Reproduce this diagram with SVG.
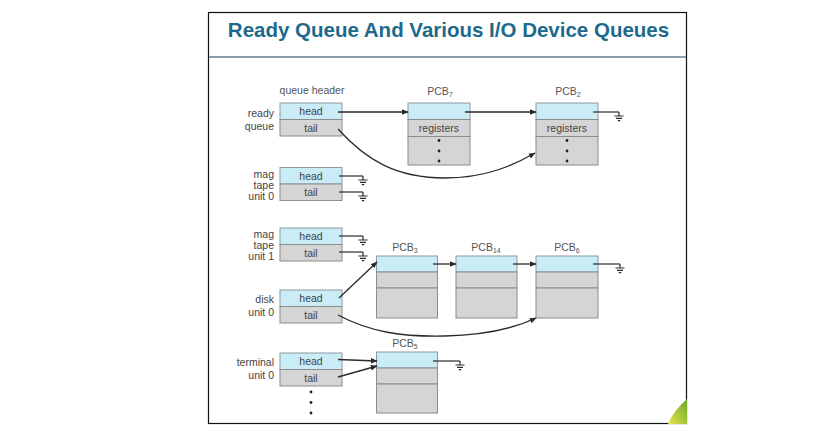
<svg xmlns="http://www.w3.org/2000/svg" width="822" height="430" viewBox="0 0 822 430">
  <style>
    .frame { fill: #ffffff; stroke: #111111; stroke-width: 1.2; }
    .title { font-family: "Liberation Sans", Arial, sans-serif; font-weight: bold; font-size: 20.5px; fill: #1d6a8c; }
    .lbl { font-family: "Liberation Sans", Arial, sans-serif; font-size: 10.5px; fill: #444444; }
    .pcb { fill: #555555; }
    .sub { font-size: 7px; }
    .blue { fill: #c9ecf6; stroke: #8c9aa0; stroke-width: 1; }
    .gray { fill: #d5d5d5; stroke: #8c8c8c; stroke-width: 1; }
    .link { fill: none; stroke: #2a2a2a; stroke-width: 1.3; }
    .gnd { fill: none; stroke: #2a2a2a; stroke-width: 1.2; }
    .dot { fill: #222222; }
  </style>
  <defs>
    <marker id="arr" viewBox="0 0 10 10" refX="9" refY="5" markerWidth="7" markerHeight="7" markerUnits="userSpaceOnUse" orient="auto">
      <path d="M0,1 L10,5 L0,9 z" fill="#2a2a2a"/>
    </marker>
    <!-- null pointer: short drop and three shrinking bars -->
    <g id="ground">
      <path class="gnd" d="M0,0 v4 M-4.5,4 h9 M-3,6.3 h6 M-1.2,8.6 h2.4"/>
    </g>
    <linearGradient id="leaf" x1="0" y1="1" x2="1" y2="0">
      <stop offset="0" stop-color="#e8e64a"/>
      <stop offset="1" stop-color="#6aa628"/>
    </linearGradient>
  </defs>

  <rect width="822" height="430" fill="#ffffff"/>
  <rect class="frame" x="208.5" y="12.5" width="478" height="411"/>
  <text class="title" x="448.5" y="37" text-anchor="middle">Ready Queue And Various I/O Device Queues</text>
  <line x1="209" y1="57" x2="686" y2="57" stroke="#8c9cab" stroke-width="2"/>

  <!-- corner leaf ornament -->
  <path d="M668,424 C672,414 680,405 687,399 L687,424 z" fill="url(#leaf)"/>

  <text class="lbl pcb" x="312" y="94" text-anchor="middle">queue header</text>

  <!-- queue headers -->
  <g id="ready-queue">
    <text class="lbl" x="274" y="117" text-anchor="end">ready</text>
    <text class="lbl" x="274" y="130" text-anchor="end">queue</text>
    <rect class="blue" x="280" y="103" width="62" height="16.5"/>
    <rect class="gray" x="280" y="119.5" width="62" height="16.5"/>
    <text class="lbl" x="311" y="115" text-anchor="middle">head</text>
    <text class="lbl" x="311" y="132" text-anchor="middle">tail</text>
  </g>

  <g id="mag-tape-0">
    <text class="lbl" x="274" y="178" text-anchor="end">mag</text>
    <text class="lbl" x="274" y="189" text-anchor="end">tape</text>
    <text class="lbl" x="274" y="200" text-anchor="end">unit 0</text>
    <rect class="blue" x="280" y="167.5" width="62" height="16.5"/>
    <rect class="gray" x="280" y="184" width="62" height="16.5"/>
    <text class="lbl" x="311" y="180" text-anchor="middle">head</text>
    <text class="lbl" x="311" y="196" text-anchor="middle">tail</text>
  </g>

  <g id="mag-tape-1">
    <text class="lbl" x="274" y="238" text-anchor="end">mag</text>
    <text class="lbl" x="274" y="249" text-anchor="end">tape</text>
    <text class="lbl" x="274" y="260" text-anchor="end">unit 1</text>
    <rect class="blue" x="280" y="228" width="62" height="16.5"/>
    <rect class="gray" x="280" y="244.5" width="62" height="16.5"/>
    <text class="lbl" x="311" y="240" text-anchor="middle">head</text>
    <text class="lbl" x="311" y="257" text-anchor="middle">tail</text>
  </g>

  <g id="disk-unit-0">
    <text class="lbl" x="274" y="303" text-anchor="end">disk</text>
    <text class="lbl" x="274" y="316" text-anchor="end">unit 0</text>
    <rect class="blue" x="280" y="290" width="62" height="16.5"/>
    <rect class="gray" x="280" y="306.5" width="62" height="16.5"/>
    <text class="lbl" x="311" y="302" text-anchor="middle">head</text>
    <text class="lbl" x="311" y="319" text-anchor="middle">tail</text>
  </g>

  <g id="terminal-unit-0">
    <text class="lbl" x="274" y="366" text-anchor="end">terminal</text>
    <text class="lbl" x="274" y="379" text-anchor="end">unit 0</text>
    <rect class="blue" x="280" y="353" width="62" height="16.5"/>
    <rect class="gray" x="280" y="369.5" width="62" height="16.5"/>
    <text class="lbl" x="311" y="365" text-anchor="middle">head</text>
    <text class="lbl" x="311" y="382" text-anchor="middle">tail</text>
    <circle class="dot" cx="311" cy="392" r="1.4"/>
    <circle class="dot" cx="311" cy="402.5" r="1.4"/>
    <circle class="dot" cx="311" cy="413" r="1.4"/>
  </g>

  <!-- process control blocks -->
  <g id="pcb7">
    <text class="lbl pcb" x="440" y="95" text-anchor="middle">PCB<tspan class="sub" dy="2">7</tspan></text>
    <rect class="blue" x="408" y="103" width="62" height="16.5"/>
    <rect class="gray" x="408" y="119.5" width="62" height="17"/>
    <rect class="gray" x="408" y="136.5" width="62" height="28.5"/>
    <text class="lbl" x="439" y="132" text-anchor="middle">registers</text>
    <circle class="dot" cx="439" cy="140.5" r="1.4"/>
    <circle class="dot" cx="439" cy="151" r="1.4"/>
    <circle class="dot" cx="439" cy="161" r="1.4"/>
  </g>

  <g id="pcb2">
    <text class="lbl pcb" x="568" y="95" text-anchor="middle">PCB<tspan class="sub" dy="2">2</tspan></text>
    <rect class="blue" x="536" y="103" width="62" height="16.5"/>
    <rect class="gray" x="536" y="119.5" width="62" height="17"/>
    <rect class="gray" x="536" y="136.5" width="62" height="28.5"/>
    <text class="lbl" x="567" y="132" text-anchor="middle">registers</text>
    <circle class="dot" cx="567" cy="140.5" r="1.4"/>
    <circle class="dot" cx="567" cy="151" r="1.4"/>
    <circle class="dot" cx="567" cy="161" r="1.4"/>
  </g>

  <g id="pcb3">
    <text class="lbl pcb" x="405" y="251" text-anchor="middle">PCB<tspan class="sub" dy="2">3</tspan></text>
    <rect class="blue" x="376.5" y="256" width="61" height="16"/>
    <rect class="gray" x="376.5" y="272" width="61" height="16"/>
    <rect class="gray" x="376.5" y="288" width="61" height="30"/>
  </g>

  <g id="pcb14">
    <text class="lbl pcb" x="486" y="251" text-anchor="middle">PCB<tspan class="sub" dy="2">14</tspan></text>
    <rect class="blue" x="456" y="256" width="61" height="16"/>
    <rect class="gray" x="456" y="272" width="61" height="16"/>
    <rect class="gray" x="456" y="288" width="61" height="30"/>
  </g>

  <g id="pcb6">
    <text class="lbl pcb" x="567" y="251" text-anchor="middle">PCB<tspan class="sub" dy="2">6</tspan></text>
    <rect class="blue" x="536" y="256" width="62" height="16"/>
    <rect class="gray" x="536" y="272" width="62" height="16"/>
    <rect class="gray" x="536" y="288" width="62" height="30"/>
  </g>

  <g id="pcb5">
    <text class="lbl pcb" x="405" y="347" text-anchor="middle">PCB<tspan class="sub" dy="2">5</tspan></text>
    <rect class="blue" x="376.5" y="352" width="61" height="16"/>
    <rect class="gray" x="376.5" y="368" width="61" height="16"/>
    <rect class="gray" x="376.5" y="384" width="61" height="29"/>
  </g>

  <!-- pointers -->
  <g id="connectors">
    <!-- ready queue -->
    <line class="link" x1="338" y1="112" x2="408" y2="112" marker-end="url(#arr)"/>
    <line class="link" x1="465" y1="112" x2="536" y2="112" marker-end="url(#arr)"/>
    <path class="link" d="M338,129 C366,160 396,178 445,178 C486,178 514,165 535,153" marker-end="url(#arr)"/>
    <path class="gnd" d="M593,112 H619"/>
    <use href="#ground" x="619" y="112"/>

    <!-- mag tape 0 -->
    <path class="gnd" d="M339,176 H363"/>
    <use href="#ground" x="363" y="176"/>
    <path class="gnd" d="M339,192 H363"/>
    <use href="#ground" x="363" y="192"/>

    <!-- mag tape 1 -->
    <path class="gnd" d="M339,236 H363"/>
    <use href="#ground" x="363" y="236"/>
    <path class="gnd" d="M339,252 H363"/>
    <use href="#ground" x="363" y="252"/>

    <!-- disk 0 -->
    <line class="link" x1="339" y1="298" x2="377" y2="262" marker-end="url(#arr)"/>
    <line class="link" x1="433" y1="264" x2="456" y2="264" marker-end="url(#arr)"/>
    <line class="link" x1="513" y1="264" x2="536" y2="264" marker-end="url(#arr)"/>
    <path class="gnd" d="M593,264 H620"/>
    <use href="#ground" x="620" y="264"/>
    <path class="link" d="M338,315 C370,332 402,337 445,336 C486,335 515,328 536,318" marker-end="url(#arr)"/>

    <!-- terminal 0 -->
    <line class="link" x1="338" y1="359.5" x2="377" y2="361" marker-end="url(#arr)"/>
    <line class="link" x1="338" y1="377" x2="377" y2="366" marker-end="url(#arr)"/>
    <path class="gnd" d="M433,361 H460"/>
    <use href="#ground" x="460" y="361"/>
  </g>
</svg>
